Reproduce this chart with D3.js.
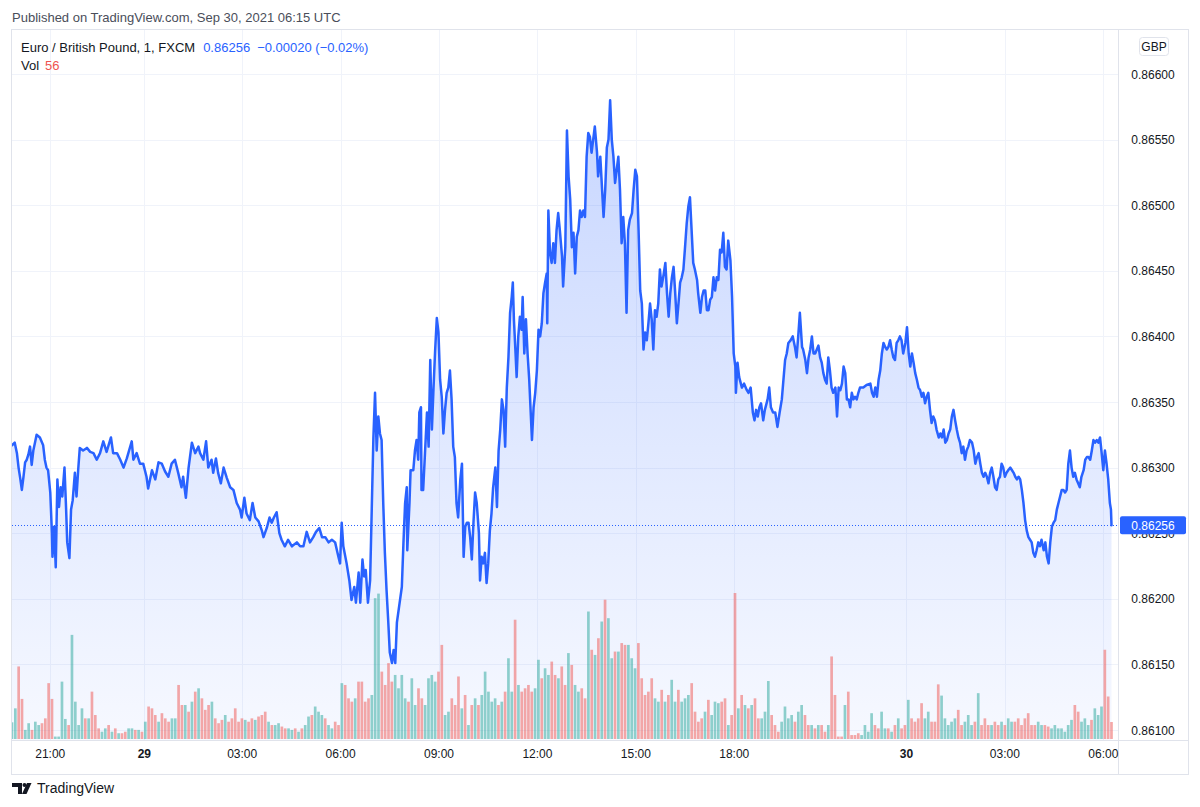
<!DOCTYPE html>
<html><head><meta charset="utf-8">
<script src="https://cdn.jsdelivr.net/npm/d3@7"></script>
<style>
body{margin:0;background:#fff}
svg{display:block}
text{font-family:"Liberation Sans",Arial,sans-serif}
</style>
</head><body>
<svg id="chart" width="1200" height="807"></svg>
<script>
// ---------------- DATA ----------------
const headerText = "Published on TradingView.com, Sep 30, 2021 06:15 UTC";
const symbolTitle = "Euro / British Pound, 1, FXCM";
const lastPrice = 0.86256;
const priceChange = -0.00020;
const priceChangePct = -0.02;
const lastVolume = 56;
const currency = "GBP";

// time axis: labels and their bar index (minutes of trading from start)
const timeTickLabels = ["21:00", "29", "03:00", "06:00", "09:00", "12:00", "15:00", "18:00", "30", "03:00", "06:00"];
const timeTickBars = [70, 242, 421, 601, 781, 961, 1141, 1321, 1636, 1816, 1996];
const lastBar = 2011;

// price axis ticks
const priceTicks = [0.861, 0.8615, 0.862, 0.8625, 0.863, 0.8635, 0.864, 0.8645, 0.865, 0.8655, 0.866];

// price series: [bar index, close]
const pricePoints = [
[0,.86317],[5,.86319],[9,.86311],[12,.86300],[15,.86292],[18,.86283],[21,.86293],[24,.86304],[27,.86306],[30,.86310],[33,.86316],[36,.86302],[39,.86313],[42,.86319],[45,.86325],[51,.86323],[57,.86317],[60,.86306],[63,.86300],[66,.86298],[70,.86281],[73,.86250],[74,.86232],[77,.86255],[80,.86224],[83,.86291],[86,.86270],[89,.86285],[92,.86278],[96,.86300],[99,.86268],[101,.86243],[105,.86231],[108,.86268],[111,.86275],[115,.86296],[118,.86278],[121,.86298],[124,.86315],[130,.86313],[137,.86315],[143,.86312],[149,.86311],[155,.86306],[161,.86311],[167,.86320],[173,.86312],[181,.86323],[185,.86311],[192,.86311],[198,.86306],[204,.86300],[210,.86307],[219,.86320],[222,.86306],[228,.86311],[234,.86303],[240,.86303],[246,.86293],[249,.86284],[256,.86298],[262,.86291],[268,.86304],[274,.86303],[280,.86297],[286,.86293],[292,.86303],[298,.86306],[304,.86296],[310,.86285],[313,.86293],[318,.86277],[323,.86300],[329,.86319],[335,.86311],[341,.86316],
[344,.86311],[350,.86306],[355,.86320],[359,.86300],[365,.86306],[368,.86296],[373,.86307],[377,.86296],[382,.86288],[387,.86300],[393,.86292],[399,.86285],[405,.86283],[411,.86273],[417,.86268],[420,.86262],[425,.86277],[429,.86265],[435,.86260],[440,.86273],[445,.86262],[451,.86259],[457,.86252],[460,.86247],[466,.86254],[471,.86262],[475,.86258],[479,.86262],[484,.86266],[489,.86250],[493,.86245],[499,.86240],[505,.86245],[512,.86240],[521,.86243],[527,.86240],[533,.86240],[539,.86251],[545,.86243],[551,.86247],[556,.86251],[562,.86254],[567,.86247],[573,.86247],[579,.86243],[585,.86245],[591,.86243],[597,.86232],[600,.86227],[603,.86258],[606,.86240],[612,.86227],[617,.86214],[621,.86199],[626,.86209],[629,.86197],[634,.86220],[637,.86197],[641,.86230],[644,.86217],[647,.86222],[651,.86197],[655,.86214],
[661,.86323],[664,.86357],[667,.86313],[670,.86339],[673,.86326],[676,.86321],[679,.86273],[682,.86235],[685,.86207],[688,.86184],[691,.86159],[695,.86151],[698,.86161],[701,.86151],[704,.86182],[708,.86194],[713,.86209],[716,.86243],[719,.86273],[722,.86285],[723,.86237],[727,.86273],[729,.86298],[734,.86298],[737,.86313],[740,.86321],[743,.86306],[745,.86342],[748,.86346],[749,.86283],[752,.86283],[755,.86308],[759,.86342],[762,.86316],[765,.86382],[768,.86329],[771,.86361],[774,.86390],[777,.86414],[780,.86403],[783,.86367],[786,.86354],[789,.86326],[792,.86344],[795,.86357],[798,.86361],[801,.86374],[804,.86352],[807,.86316],[810,.86308],[813,.86273],[816,.86262],[820,.86291],[823,.86303],[826,.86232],[829,.86255],[832,.86258],[835,.86258],[838,.86247],[841,.86230],[844,.86258],[847,.86281],[850,.86273],[854,.86250],[856,.86214],[859,.86232],[862,.86227],[865,.86235],[868,.86212],[871,.86227],[874,.86252],[877,.86265],[880,.86285],[884,.86300],[887,.86270],[890,.86313],[893,.86329],[896,.86352],[899,.86344],[902,.86316],[905,.86361],[908,.86384],[911,.86418],[914,.86430],[916,.86441],[918,.86413],[921,.86387],[923,.86369],[926,.86400],[929,.86415],[932,.86405],[934,.86430],[937,.86387],[940,.86413],[943,.86387],[946,.86367],[951,.86321],[954,.86346],[957,.86357],[960,.86374],[963,.86405],[966,.86400],[969,.86410],[972,.86433],[975,.86441],[978,.86448],[979,.86410],[981,.86496],
[984,.86464],[987,.86456],[990,.86471],[993,.86456],[996,.86481],[999,.86494],[1002,.86481],[1006,.86461],[1008,.86438],[1012,.86468],[1015,.86557],[1018,.86522],[1021,.86504],[1024,.86468],[1027,.86479],[1030,.86448],[1033,.86476],[1036,.86481],[1039,.86496],[1042,.86491],[1045,.86496],[1048,.86491],[1051,.86537],[1054,.86555],[1057,.86552],[1060,.86540],[1063,.86550],[1066,.86560],[1070,.86540],[1072,.86522],[1076,.86537],[1079,.86514],[1082,.86491],[1085,.86512],[1088,.86544],[1091,.86550],[1094,.86580],[1097,.86550],[1100,.86537],[1103,.86517],[1106,.86527],[1109,.86537],[1112,.86512],[1115,.86471],[1118,.86491],[1121,.86471],[1124,.86418],[1127,.86481],[1130,.86489],[1134,.86494],[1137,.86512],[1140,.86527],[1143,.86522],[1146,.86481],[1149,.86435],[1152,.86425],[1155,.86390],[1158,.86403],[1161,.86397],[1164,.86410],[1167,.86425],[1170,.86413],[1173,.86390],[1176,.86420],[1179,.86415],[1182,.86425],[1185,.86451],[1188,.86438],[1191,.86445],[1195,.86456],[1198,.86433],[1201,.86415],[1204,.86433],[1207,.86445],[1210,.86453],[1213,.86433],[1216,.86410],[1219,.86425],[1222,.86441],[1225,.86445],[1228,.86451],[1231,.86468],[1234,.86486],[1237,.86499],[1240,.86506],[1243,.86481],[1246,.86456],[1249,.86451],[1253,.86443],[1255,.86433],[1259,.86418],[1262,.86430],[1265,.86435],[1268,.86435],[1271,.86420],[1274,.86420],[1277,.86428],[1280,.86430],[1283,.86445],[1286,.86435],[1289,.86445],[1292,.86443],[1295,.86466],
[1298,.86464],[1301,.86479],[1304,.86453],[1307,.86451],[1310,.86473],[1314,.86458],[1317,.86430],[1320,.86387],[1323,.86377],[1324,.86357],[1327,.86380],[1330,.86369],[1335,.86361],[1339,.86364],[1344,.86359],[1347,.86357],[1351,.86361],[1355,.86342],[1358,.86336],[1361,.86344],[1364,.86339],[1367,.86346],[1370,.86349],[1374,.86336],[1377,.86344],[1382,.86352],[1385,.86361],[1388,.86346],[1392,.86342],[1396,.86342],[1400,.86331],[1404,.86342],[1408,.86352],[1411,.86367],[1414,.86382],[1417,.86387],[1420,.86395],[1424,.86397],[1428,.86400],[1432,.86392],[1435,.86384],[1438,.86400],[1441,.86418],[1445,.86392],[1447,.86390],[1451,.86382],[1454,.86372],[1457,.86384],[1460,.86390],[1463,.86400],[1466,.86387],[1469,.86387],[1472,.86390],[1475,.86393],[1478,.86384],[1481,.86380],[1484,.86372],[1487,.86367],[1490,.86364],[1493,.86384],[1496,.86374],[1499,.86361],[1502,.86357],[1506,.86361],[1509,.86339],[1512,.86361],[1515,.86359],[1518,.86364],[1521,.86377],[1524,.86372],[1527,.86352],[1530,.86352],[1533,.86346],[1536,.86357],[1539,.86352],[1542,.86354],[1545,.86352],[1548,.86357],[1551,.86361],[1557,.86361],[1563,.86363],[1570,.86364],[1573,.86357],[1576,.86354],[1579,.86361],[1582,.86354],[1585,.86367],[1588,.86374],[1591,.86387],[1594,.86395],[1597,.86392],[1600,.86390],[1603,.86392],[1606,.86397],[1609,.86390],[1612,.86384],[1615,.86382],[1618,.86395],[1621,.86397],[1624,.86400],[1627,.86397],[1630,.86387],[1634,.86395],[1637,.86407],[1640,.86387],[1643,.86377],[1646,.86387],[1649,.86380],[1652,.86372],[1655,.86367],[1658,.86361],
[1661,.86359],[1664,.86354],[1667,.86357],[1670,.86349],[1673,.86354],[1676,.86357],[1679,.86344],[1682,.86334],[1685,.86339],[1688,.86336],[1691,.86329],[1695,.86323],[1698,.86326],[1701,.86323],[1704,.86329],[1707,.86319],[1710,.86321],[1713,.86326],[1716,.86329],[1719,.86339],[1722,.86344],[1725,.86336],[1728,.86329],[1731,.86323],[1734,.86319],[1737,.86311],[1740,.86316],[1743,.86306],[1746,.86313],[1749,.86316],[1752,.86321],[1756,.86319],[1759,.86313],[1762,.86303],[1765,.86308],[1768,.86311],[1771,.86303],[1774,.86296],[1777,.86293],[1780,.86296],[1783,.86293],[1786,.86288],[1789,.86296],[1792,.86300],[1795,.86293],[1798,.86285],[1801,.86283],[1804,.86291],[1807,.86293],[1810,.86303],[1813,.86300],[1816,.86293],[1819,.86296],[1822,.86298],[1826,.86300],[1829,.86298],[1832,.86296],[1835,.86293],[1838,.86291],[1841,.86293],[1844,.86291],[1847,.86283],[1850,.86273],[1853,.86260],[1856,.86252],[1859,.86247],[1862,.86245],[1865,.86243],[1868,.86235],[1871,.86232],[1874,.86237],[1877,.86243],[1880,.86240],[1883,.86245],[1887,.86237],[1890,.86243],[1893,.86232],[1896,.86227],[1899,.86243],[1902,.86255],[1905,.86258],[1908,.86260],[1911,.86268],[1914,.86273],[1917,.86278],[1920,.86283],[1923,.86283],[1926,.86281],[1929,.86283],[1932,.86303],[1935,.86313],[1938,.86300],[1941,.86293],[1944,.86296],[1947,.86291],[1950,.86288],[1953,.86285],[1956,.86293],[1960,.86298],[1963,.86306],[1966,.86308],[1969,.86308],[1972,.86306],[1975,.86313],[1978,.86321],[1981,.86319],[1984,.86321],[1987,.86319],[1990,.86323],[1993,.86311],[1996,.86298],[1999,.86313],[2002,.86303],[2005,.86291],[2008,.86273],[2010,.86268],[2011,.86256]
];

// volume, sampled evenly across the session
const volumeValues = [
55,101,239,132,30,52,30,57,46,52,68,184,132,8,8,189,66,46,343,123,46,101,68,68,156,79,35,24,35,46,24,35,19,19,24,35,35,30,30,24,57,107,101,79,57,85,68,57,68,68,178,112,112,90,123,156,167,134,96,112,123,68,52,63,79,57,68,101,57,68,63,57,68,63,74,79,90,57,46,46,52,41,35,35,30,35,24,35,46,74,79,107,90,79,68,46,35,57,46,184,178,134,123,134,189,189,123,134,145,464,479,
222,178,250,189,211,167,211,134,123,200,112,167,134,112,200,211,189,222,310,79,90,134,112,206,101,145,46,112,134,112,145,222,156,123,134,112,123,156,266,156,393,178,156,167,178,156,167,261,200,233,211,255,211,200,239,178,283,244,178,156,167,134,420,294,277,332,387,459,398,266,288,288,316,310,310,266,233,316,200,145,156,200,134,123,162,123,145,195,123,162,123,134,145,184,90,57,68,90,129,79,123,118,123,134,46,79,481,101,145,112,101,
112,134,68,68,90,191,79,46,24,57,107,68,79,57,90,112,79,46,46,35,46,46,24,46,272,145,8,8,112,156,13,13,19,13,46,24,85,46,35,90,35,35,24,46,68,35,46,129,68,57,68,118,68,90,57,57,180,143,68,46,57,68,96,46,57,79,46,57,151,46,68,46,46,57,46,57,46,68,57,57,68,46,68,85,46,46,57,46,46,41,35,46,35,35,24,46,63,112,90,57,68,46,63,101,79,107,294,140,56
];

// ---------------- LAYOUT ----------------
const svg = d3.select("#chart");
const plotL = 12, plotR = 1118, plotT = 30, plotB = 740;
const axisR = 1188, axisB = 774;

const x = d3.scaleLinear().domain([0, lastBar]).range([12, 1111.5]);
const y = d3.scaleLinear().domain([0.861, 0.866]).range([730, 74]);
const maxVol = d3.max(volumeValues);
const yVol = d3.scaleLinear().domain([0, maxVol]).range([plotB - 1, plotB - 147]);

const defs = svg.append("defs");
defs.append("clipPath").attr("id", "plotClip").append("rect")
  .attr("x", plotL).attr("y", plotT).attr("width", plotR - plotL).attr("height", plotB - plotT);
const grad = defs.append("linearGradient").attr("id", "areaGrad")
  .attr("gradientUnits", "userSpaceOnUse")
  .attr("x1", 0).attr("x2", 0)
  .attr("y1", y(d3.max(pricePoints, d => d[1]))).attr("y2", plotB);
grad.append("stop").attr("offset", 0).attr("stop-color", "rgb(41,98,255)").attr("stop-opacity", 0.26);
grad.append("stop").attr("offset", 1).attr("stop-color", "rgb(41,98,255)").attr("stop-opacity", 0.04);

// header
svg.append("text").attr("x", 12).attr("y", 22).attr("font-size", 13).attr("fill", "#4a4e5a").text(headerText);

// grid
const grid = svg.append("g").attr("clip-path", "url(#plotClip)");
grid.selectAll("line.h").data(priceTicks).join("line")
  .attr("x1", plotL).attr("x2", plotR)
  .attr("y1", d => Math.round(y(d)) + 0.5).attr("y2", d => Math.round(y(d)) + 0.5)
  .attr("stroke", "#f0f3fa").attr("stroke-width", 1);
grid.selectAll("line.v").data(timeTickBars).join("line")
  .attr("x1", d => Math.round(x(d)) + 0.5).attr("x2", d => Math.round(x(d)) + 0.5)
  .attr("y1", plotT).attr("y2", plotB)
  .attr("stroke", "#f0f3fa").attr("stroke-width", 1);

const plot = svg.append("g").attr("clip-path", "url(#plotClip)");

// area fill
plot.append("path").datum(pricePoints)
  .attr("d", d3.area().x(d => x(d[0])).y0(plotB).y1(d => y(d[1])))
  .attr("fill", "url(#areaGrad)");

// volume bars
const volStep = lastBar / (volumeValues.length - 1);
const bis = d3.bisector(d => d[0]).right;
function isUp(m) {
  let j = bis(pricePoints, m) - 1;
  j = Math.max(1, Math.min(pricePoints.length - 1, j));
  return pricePoints[j][1] >= pricePoints[j - 1][1];
}
const barW = (x(volStep) - x(0)) * 0.8;
plot.append("g").selectAll("rect").data(volumeValues).join("rect")
  .attr("x", (d, i) => x(i * volStep) - barW / 2)
  .attr("width", barW)
  .attr("y", d => yVol(d))
  .attr("height", d => yVol(0) - yVol(d))
  .attr("fill", (d, i) => isUp(i * volStep) ? "rgba(38,166,154,0.5)" : "rgba(239,83,80,0.5)");

// price line
plot.append("path").datum(pricePoints)
  .attr("d", d3.line().x(d => x(d[0])).y(d => y(d[1])))
  .attr("fill", "none").attr("stroke", "#2962ff").attr("stroke-width", 2.5)
  .attr("stroke-linejoin", "round").attr("stroke-linecap", "round");

// last price dotted line
plot.append("line")
  .attr("x1", plotL).attr("x2", plotR)
  .attr("y1", Math.round(y(lastPrice)) + 0.5).attr("y2", Math.round(y(lastPrice)) + 0.5)
  .attr("stroke", "#2962ff").attr("stroke-width", 1).attr("stroke-dasharray", "1 2");

// frame
const frame = svg.append("g").attr("fill", "none").attr("stroke", "#e0e3eb").attr("stroke-width", 1);
frame.append("rect").attr("x", plotL - 0.5).attr("y", plotT - 0.5).attr("width", axisR - plotL + 1).attr("height", axisB - plotT + 1);
frame.append("line").attr("x1", plotR + 0.5).attr("x2", plotR + 0.5).attr("y1", plotT).attr("y2", axisB);
frame.append("line").attr("x1", plotL).attr("x2", axisR).attr("y1", plotB + 0.5).attr("y2", plotB + 0.5);

// price axis labels
const fmt = d3.format(".5f");
svg.append("g").selectAll("text").data(priceTicks).join("text")
  .attr("x", 1153).attr("y", d => y(d) + 4.5)
  .attr("text-anchor", "middle").attr("font-size", 12).attr("fill", "#131722")
  .text(d => fmt(d));

// currency box
svg.append("rect").attr("x", 1139.5).attr("y", 37.5).attr("width", 29).attr("height", 18).attr("rx", 3)
  .attr("fill", "#fff").attr("stroke", "#e0e3eb");
svg.append("text").attr("x", 1154).attr("y", 51).attr("text-anchor", "middle").attr("font-size", 12)
  .attr("fill", "#131722").text(currency);

// last price label
const ly = y(lastPrice);
svg.append("rect").attr("x", 1120).attr("y", ly - 9).attr("width", 66).attr("height", 18).attr("rx", 2).attr("fill", "#2962ff");
svg.append("text").attr("x", 1153).attr("y", ly + 4.5).attr("text-anchor", "middle").attr("font-size", 12)
  .attr("fill", "#fff").text(fmt(lastPrice));

// time axis labels
svg.append("g").selectAll("text").data(timeTickBars).join("text")
  .attr("x", d => x(d)).attr("y", 758)
  .attr("text-anchor", "middle").attr("font-size", 12).attr("fill", "#131722")
  .attr("font-weight", (d, i) => timeTickLabels[i].includes(":") ? "normal" : "bold")
  .text((d, i) => timeTickLabels[i]);

// legend
const leg = svg.append("text").attr("x", 21).attr("y", 52).attr("font-size", 13).attr("fill", "#131722");
leg.append("tspan").text(symbolTitle);
leg.append("tspan").attr("dx", 8).attr("fill", "#2962ff").text(fmt(lastPrice));
const sign = v => (v < 0 ? "\u2212" : "+");
leg.append("tspan").attr("dx", 7).attr("fill", "#2962ff")
  .text(sign(priceChange) + fmt(Math.abs(priceChange)) + " (" + sign(priceChangePct) + d3.format(".2f")(Math.abs(priceChangePct)) + "%)");
const vleg = svg.append("text").attr("x", 21).attr("y", 70).attr("font-size", 13).attr("fill", "#131722");
vleg.append("tspan").text("Vol");
vleg.append("tspan").attr("dx", 6).attr("fill", "#ef5350").text(lastVolume);

// TradingView logo
const logo = svg.append("g").attr("fill", "#131722");
logo.append("path").attr("d", "M12,783 h10 v11 h-4 v-7 h-6 z");
logo.append("circle").attr("cx", 24.5).attr("cy", 785).attr("r", 2);
logo.append("path").attr("d", "M27,783 h4.5 l-5,11 h-4.5 z");
svg.append("text").attr("x", 37).attr("y", 793).attr("font-size", 14).attr("fill", "#131722").text("TradingView");
</script>
</body></html>
